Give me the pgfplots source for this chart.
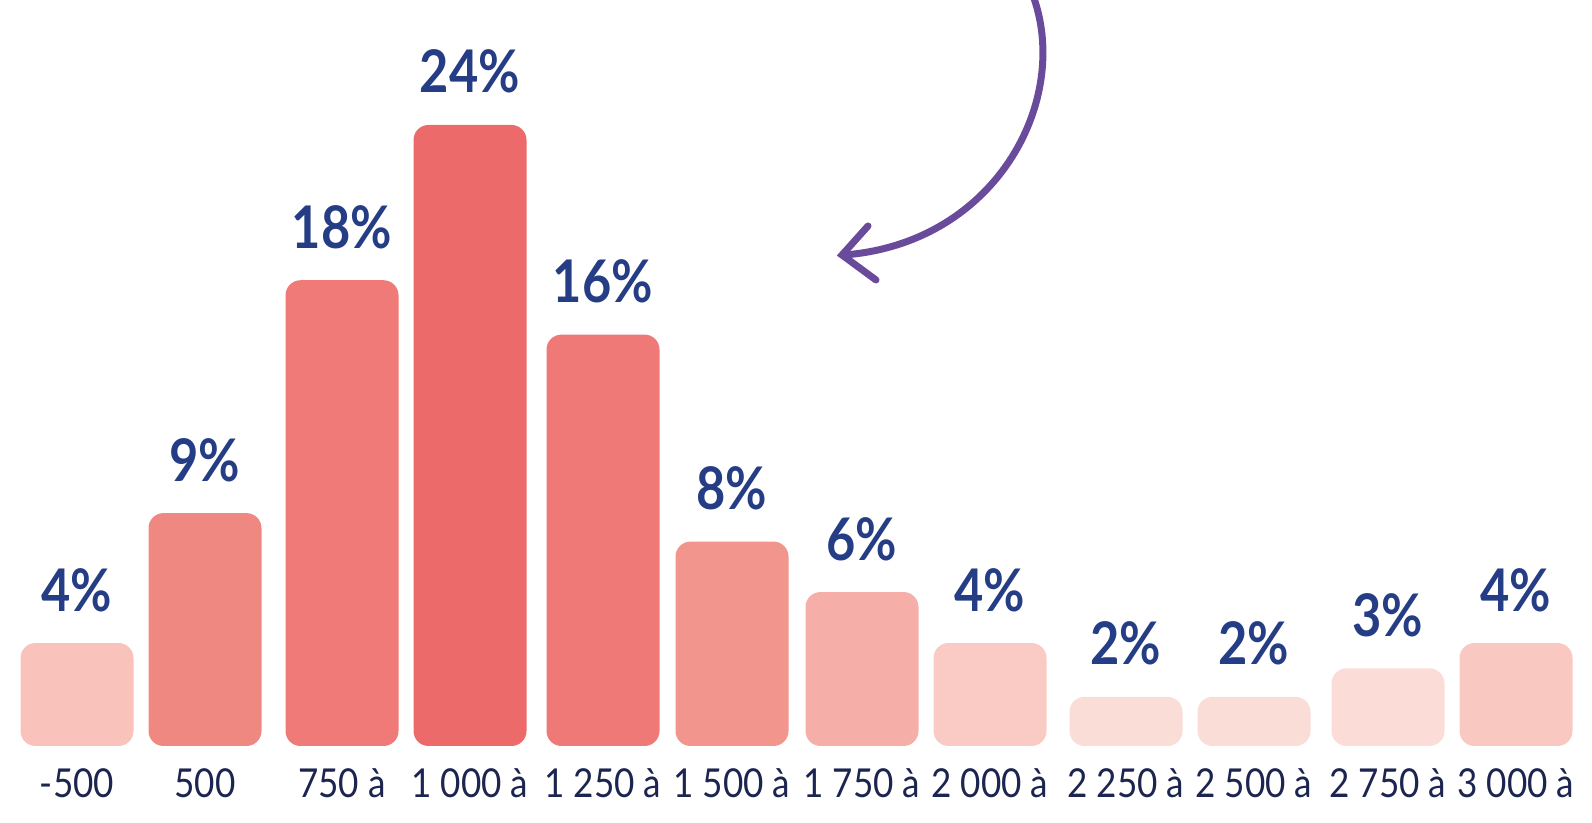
\documentclass[border=0pt]{standalone}
\usepackage{fontspec}
\setmainfont{Lato}
\newfontfamily\labfont[FakeStretch=0.88]{Lato}
\newfontfamily\pctfont[FakeStretch=0.86]{Lato}
\usepackage{pgfplots}
\pgfplotsset{compat=1.18}

\definecolor{pct}{HTML}{253D84}
\definecolor{lab}{HTML}{1C2450}
\definecolor{arrowc}{HTML}{6A4B9B}
\definecolor{cA}{HTML}{F9C2BB}
\definecolor{cB}{HTML}{F08882}
\definecolor{cC}{HTML}{EF7A77}
\definecolor{cD}{HTML}{EC6A6A}
\definecolor{cE}{HTML}{EF7976}
\definecolor{cF}{HTML}{F2958C}
\definecolor{cG}{HTML}{F5AFA8}
\definecolor{cH}{HTML}{F9CBC4}
\definecolor{cI}{HTML}{FBDDD8}
\definecolor{cJ}{HTML}{FBDCD6}
\definecolor{cK}{HTML}{F9C8C1}

\pgfplotsset{
  rbar/.style={ybar, bar width=113, bar shift=0pt, draw=none,
    rounded corners=15bp, fill=#1},
}

\begin{document}
\begin{tikzpicture}
\begin{scope}
\clip (0,0) rectangle (1592bp,823bp);
\begin{axis}[
    at={(0,0)}, anchor=south west,
    scale only axis,
    width=1592bp, height=823bp,
    xmin=0, xmax=1592,
    ymin=-2.976, ymax=28.831,
    hide axis,
    clip=false,
    nodes near coords={\pgfmathprintnumber[fixed,precision=0,assume math mode=true]{\pgfplotspointmeta}\%},
    every node near coord/.append style={
      font=\pctfont\fontsize{59}{59}\selectfont\bfseries, text=pct,
      anchor=base, yshift=32bp},
  ]
  % x = bar centre (px), y = share in %
  \addplot[rbar=cA] coordinates {(77,3.98)};
  \addplot[rbar=cB] coordinates {(205,9)};
  \addplot[rbar=cC] coordinates {(342,18)};
  \addplot[rbar=cD] coordinates {(470,24)};
  \addplot[rbar=cE] coordinates {(603,15.9)};
  \addplot[rbar=cF] coordinates {(732,7.9)};
  \addplot[rbar=cG] coordinates {(862,5.95)};
  \addplot[rbar=cH] coordinates {(990,3.98)};
  \addplot[rbar=cI] coordinates {(1126,1.9)};
  \addplot[rbar=cI] coordinates {(1254,1.9)};
  \addplot[rbar=cJ] coordinates {(1388,3.0)};
  \addplot[rbar=cK] coordinates {(1516,3.98)};
\end{axis}

% category labels (cut at the bottom, as in the source)
\foreach \x/\t in {77/-500, 205/500, 342/750 à, 470/1 000 à, 603/1 250 à,
    732/1 500 à, 862/1 750 à, 990/2 000 à, 1126/2 250 à, 1254/2 500 à,
    1388/2 750 à, 1516/3 000 à}
  \node[anchor=base, text=lab, font=\labfont\fontsize{40}{40}\selectfont]
    at (\x bp,26bp) {\t};

% hand-drawn arrow
\draw[arrowc, line width=7bp, line cap=round]
  (1030bp,835bp) .. controls (1075bp,730bp) and (1000bp,580bp) .. (844bp,568bp);
\draw[arrowc, line width=7bp, line cap=round, line join=miter]
  (868bp,597bp) -- (842bp,568bp) -- (876bp,543bp);
\end{scope}
\pgfresetboundingbox
\path[use as bounding box] (0,0) rectangle (1592bp,823bp);
\end{tikzpicture}
\end{document}
